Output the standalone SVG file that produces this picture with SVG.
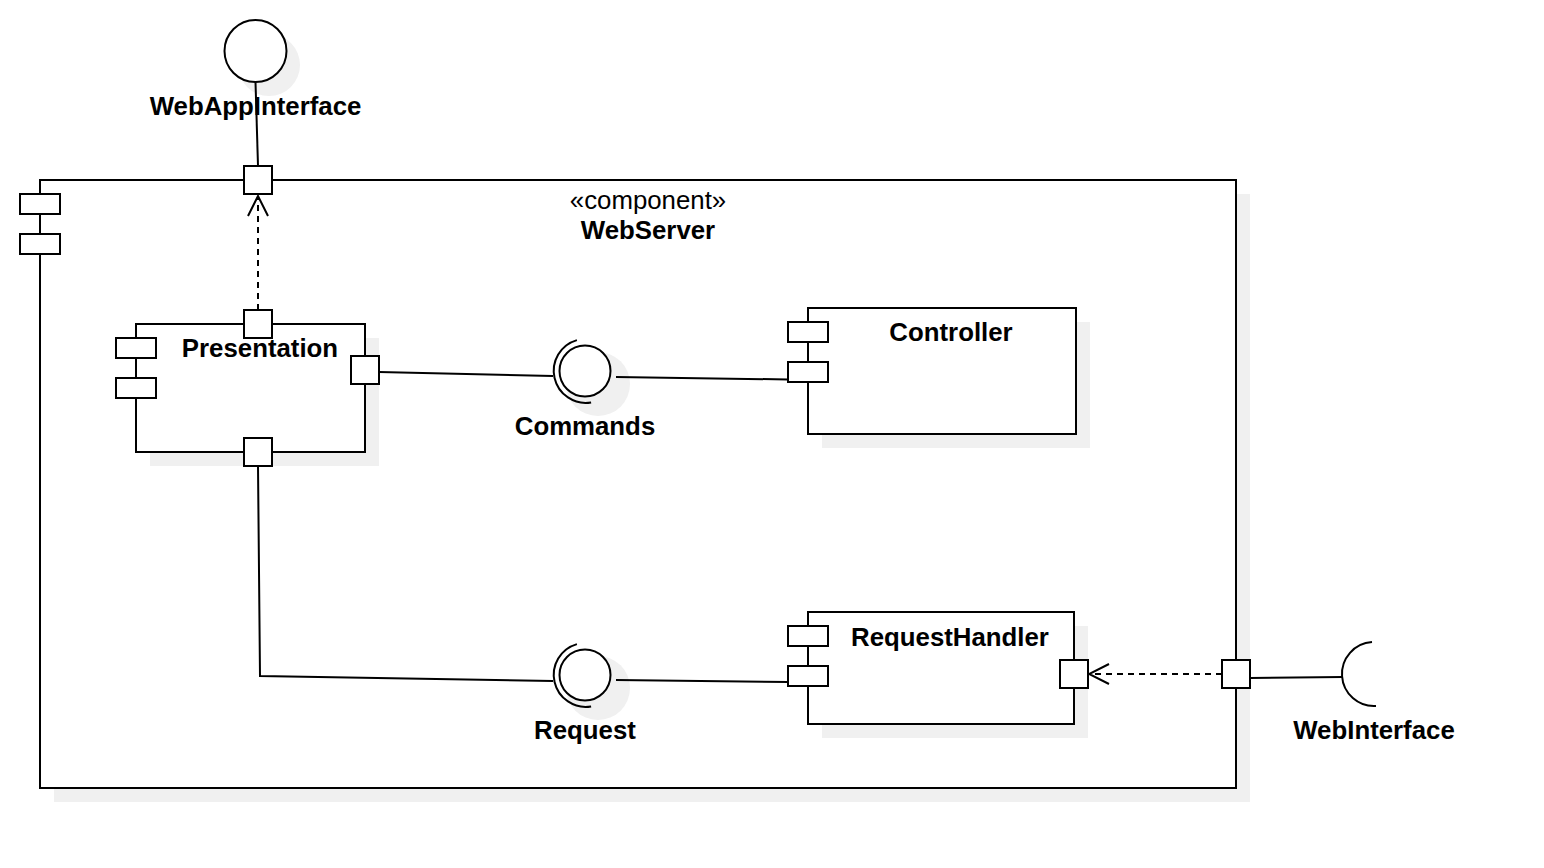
<svg xmlns="http://www.w3.org/2000/svg" width="1544" height="868" viewBox="0 0 1544 868">
<defs>
<style>
.s{fill:none;stroke:#000;stroke-width:2}
.b{fill:#fff;stroke:#000;stroke-width:2}
.sh{fill:#f0f0f0;stroke:none}
.d{fill:none;stroke:#000;stroke-width:2;stroke-dasharray:6 5}
.t{font-family:"Liberation Sans",Arial,Helvetica,sans-serif;font-size:25.8px;fill:#000;text-anchor:middle}
.bo{font-weight:bold}
</style>
<marker id="open" viewBox="0 0 24 22" markerWidth="24" markerHeight="22" refX="22" refY="11" orient="auto" markerUnits="userSpaceOnUse">
<path d="M2 1 L22 11 L2 21" fill="none" stroke="#000" stroke-width="2"/>
</marker>
</defs>
<rect width="1544" height="868" fill="#fff"/>

<g id="WebServer">
<rect class="sh" x="54" y="194" width="1196" height="608"/>
<rect class="b" x="40" y="180" width="1196" height="608"/>
<rect class="b" x="20" y="194" width="40" height="20"/>
<rect class="b" x="20" y="234" width="40" height="20"/>
<text class="t" x="648" y="209">«component»</text>
<text class="t bo" x="648" y="239">WebServer</text>
</g>

<g id="WebAppInterface">
<circle class="sh" cx="269" cy="65" r="31"/>
<circle class="b" cx="255.5" cy="51" r="31"/>
<text class="t bo" x="255.5" y="115">WebAppInterface</text>
</g>

<g id="Presentation">
<rect class="sh" x="150" y="338" width="229" height="128"/>
<rect class="b" x="136" y="324" width="229" height="128"/>
<rect class="b" x="116" y="338" width="40" height="20"/>
<rect class="b" x="116" y="378" width="40" height="20"/>
<text class="t bo" x="260" y="357">Presentation</text>
</g>

<g id="Controller">
<rect class="sh" x="822" y="322" width="268" height="126"/>
<rect class="b" x="808" y="308" width="268" height="126"/>
<rect class="b" x="788" y="322" width="40" height="20"/>
<rect class="b" x="788" y="362" width="40" height="20"/>
<text class="t bo" x="951" y="341">Controller</text>
</g>

<g id="RequestHandler">
<rect class="sh" x="822" y="626" width="266" height="112"/>
<rect class="b" x="808" y="612" width="266" height="112"/>
<rect class="b" x="788" y="626" width="40" height="20"/>
<rect class="b" x="788" y="666" width="40" height="20"/>
<text class="t bo" x="950" y="646">RequestHandler</text>
</g>

<g id="Commands">
<circle class="sh" cx="598" cy="384" r="32"/>
<circle class="b" cx="585" cy="371" r="25.5"/>
<path class="s" d="M576.9 340.1 A32 32 0 0 0 591.1 402.4"/>
<text class="t bo" x="585" y="435">Commands</text>
</g>

<g id="Request">
<circle class="sh" cx="598" cy="688" r="32"/>
<circle class="b" cx="585" cy="675" r="25.5"/>
<path class="s" d="M576.9 644.1 A32 32 0 0 0 591.1 706.4"/>
<text class="t bo" x="585" y="739">Request</text>
</g>

<g id="WebInterface">
<path class="s" d="M1372 642.1 A32 32 0 0 0 1376 706"/>
<text class="t bo" x="1374" y="739">WebInterface</text>
</g>

<g id="connectors">
<line class="s" x1="255.5" y1="82" x2="258" y2="166"/>
<line class="d" x1="258" y1="310" x2="258" y2="196" marker-end="url(#open)"/>
<line class="s" x1="379" y1="372" x2="553" y2="376"/>
<line class="s" x1="616" y1="377" x2="788" y2="379.5"/>
<polyline class="s" points="258,466 260,676 553,681"/>
<line class="s" x1="616" y1="680" x2="788" y2="682"/>
<line class="d" x1="1222" y1="674" x2="1089" y2="674" marker-end="url(#open)"/>
<line class="s" x1="1250" y1="678" x2="1343" y2="677"/>
</g>

<g id="ports">
<rect class="b" x="244" y="166" width="28" height="28"/>
<rect class="b" x="244" y="310" width="28" height="28"/>
<rect class="b" x="351" y="356" width="28" height="28"/>
<rect class="b" x="244" y="438" width="28" height="28"/>
<rect class="b" x="1060" y="660" width="28" height="28"/>
<rect class="b" x="1222" y="660" width="28" height="28"/>
</g>
</svg>
